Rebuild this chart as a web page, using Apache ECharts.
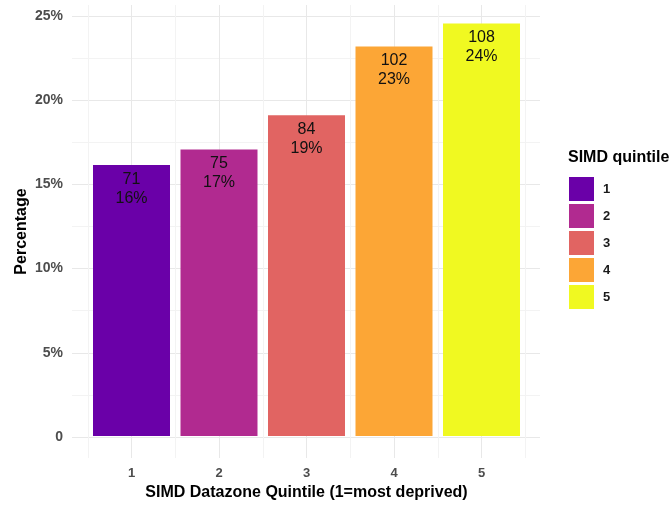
<!DOCTYPE html>
<html>
<head>
<meta charset="utf-8">
<script src="https://cdn.jsdelivr.net/npm/echarts@6/dist/echarts.min.js"></script>
<style>html,body{margin:0;padding:0;background:#fff}#c{width:672px;height:506px}</style>
</head>
<body>
<div id="c"></div>
<script>
const categories = ['1', '2', '3', '4', '5'];
const counts = [71, 75, 84, 102, 108];
const percents = [16.14, 17.05, 19.09, 23.18, 24.55];
const pctLabels = ['16%', '17%', '19%', '23%', '24%'];
const colors = ['#6A00A8', '#B12A90', '#E16462', '#FCA636', '#F0F921'];
const yMin = 0, yMax = 25, yInterval = 5;

const FONT = '"Liberation Sans", Arial, sans-serif';
const chart = echarts.init(document.getElementById('c'), null, {renderer: 'canvas'});

const series = categories.map((c, i) => ({
  type: 'bar',
  name: c,
  xAxisIndex: 2,
  yAxisIndex: 2,
  stack: 'q',
  barWidth: '88%',
  data: categories.map((cc, j) => j === i ? percents[j] : '-'),
  itemStyle: {color: colors[i]},
  label: {
    show: true,
    position: 'insideTop',
    distance: 5,
    fontFamily: FONT,
    fontSize: 16,
    lineHeight: 19,
    color: '#111',
    formatter: p => counts[p.dataIndex] + '\n' + pctLabels[p.dataIndex]
  }
}));

chart.setOption({
  animation: false,
  backgroundColor: '#fff',
  title: {
    text: 'SIMD quintile',
    left: 568, top: 150,
    padding: 0,
    textStyle: {fontFamily: FONT, fontSize: 16, fontWeight: 'bold', color: '#000'}
  },
  legend: {
    orient: 'vertical',
    left: 569, top: 177,
    padding: 0,
    itemWidth: 25, itemHeight: 24, itemGap: 3,
    icon: 'rect',
    data: categories,
    textStyle: {fontFamily: FONT, fontSize: 13, fontWeight: 'bold', color: '#1a1a1a', padding: [0, 0, 0, 4]}
  },
  grid: [
    {left: 72, width: 468, top: 16, height: 421},
    {left: 87.75, width: 437.5, top: 5, height: 453},
    {left: 87.75, width: 437.5, top: 16, height: 421}
  ],
  xAxis: [
    {gridIndex: 0, type: 'value', min: 0, max: 1, axisLine: {show: false}, axisTick: {show: false}, axisLabel: {show: false}, splitLine: {show: false}},
    {gridIndex: 1, type: 'value', min: 0.5, max: 5.5, interval: 0.5, axisLine: {show: false}, axisTick: {show: false}, axisLabel: {show: false},
      splitLine: {show: true, lineStyle: {color: ['#F3F3F3', '#E8E8E8'], width: 1}}},
    {gridIndex: 2, type: 'category', data: categories, axisLine: {show: false}, axisTick: {show: false},
      axisLabel: {margin: 31, fontFamily: FONT, fontSize: 13, fontWeight: 'bold', color: '#4D4D4D'},
      splitLine: {show: false},
      name: 'SIMD Datazone Quintile (1=most deprived)', nameLocation: 'middle', nameGap: 46,
      nameTextStyle: {fontFamily: FONT, fontSize: 16, fontWeight: 'bold', color: '#000'}}
  ],
  yAxis: [
    {gridIndex: 0, type: 'value', min: yMin, max: yMax, interval: yInterval, axisLine: {show: false}, axisTick: {show: false},
      axisLabel: {margin: 9, fontFamily: FONT, fontSize: 14, fontWeight: 'bold', color: '#4D4D4D', formatter: v => v === 0 ? '0' : v + '%'},
      splitLine: {show: true, lineStyle: {color: '#E8E8E8', width: 1}},
      minorTick: {show: false, splitNumber: 2},
      minorSplitLine: {show: true, lineStyle: {color: '#F3F3F3', width: 1}}},
    {gridIndex: 1, type: 'value', min: 0, max: 1, axisLine: {show: false}, axisTick: {show: false}, axisLabel: {show: false}, splitLine: {show: false},
      name: 'Percentage', nameLocation: 'middle', nameGap: 58, nameRotate: 90,
      nameTextStyle: {fontFamily: FONT, fontSize: 16, fontWeight: 'bold', color: '#000'}},
    {gridIndex: 2, type: 'value', min: yMin, max: yMax, axisLine: {show: false}, axisTick: {show: false}, axisLabel: {show: false}, splitLine: {show: false}}
  ],
  series: series
});
</script>
</body>
</html>
